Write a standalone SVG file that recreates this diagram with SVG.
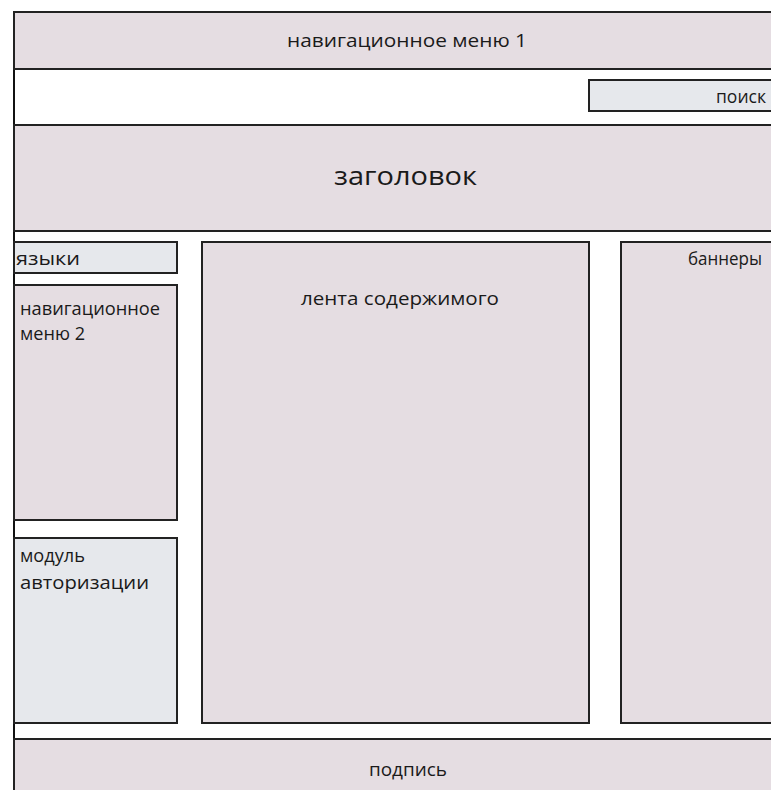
<svg xmlns="http://www.w3.org/2000/svg" width="771" height="790" viewBox="0 0 771 790">
<style>
.p{fill:#e5dde2;stroke:#222;stroke-width:2}
.b{fill:#e6e8ec;stroke:#222;stroke-width:2}
.t{font-family:"Open Sans","Liberation Sans",sans-serif;fill:#1a1a1a;font-size:19px}
</style>
<rect x="0" y="0" width="771" height="790" fill="#fff"/>
<g id="frame"><rect x="14" y="12" width="820" height="820" fill="#fff" stroke="#111" stroke-width="2"/></g>
<g id="nav1"><rect class="p" x="14" y="12" width="820" height="57"/><text class="t" x="287" y="47" textLength="240" lengthAdjust="spacingAndGlyphs">навигационное меню 1</text></g>
<g id="search"><rect class="b" x="589" y="80" width="220" height="31"/><text class="t" x="716" y="103" textLength="50" lengthAdjust="spacingAndGlyphs">поиск</text></g>
<g id="header"><rect class="p" x="14" y="125" width="820" height="106"/><text class="t" x="334" y="185" style="font-size:25px" textLength="143" lengthAdjust="spacingAndGlyphs">заголовок</text></g>
<g id="languages"><rect class="b" x="14" y="242" width="163" height="31"/><text class="t" x="16" y="265" textLength="64" lengthAdjust="spacingAndGlyphs">языки</text></g>
<g id="nav2"><rect class="p" x="14" y="285" width="163" height="235"/><text class="t" x="20" y="315" textLength="140" lengthAdjust="spacingAndGlyphs">навигационное</text><text class="t" x="20" y="340" textLength="65" lengthAdjust="spacingAndGlyphs">меню 2</text></g>
<g id="auth"><rect class="b" x="14" y="538" width="163" height="185"/><text class="t" x="20" y="562" textLength="65" lengthAdjust="spacingAndGlyphs">модуль</text><text class="t" x="20" y="589" textLength="129" lengthAdjust="spacingAndGlyphs">авторизации</text></g>
<g id="content"><rect class="p" x="202" y="242" width="387" height="481"/><text class="t" x="301" y="305" textLength="198" lengthAdjust="spacingAndGlyphs">лента содержимого</text></g>
<g id="banners"><rect class="p" x="621" y="242" width="220" height="481"/><text class="t" x="688" y="265" style="font-size:18px" textLength="74" lengthAdjust="spacingAndGlyphs">баннеры</text></g>
<g id="footer"><rect class="p" x="14" y="739" width="820" height="80"/><text class="t" x="369" y="776" textLength="78" lengthAdjust="spacingAndGlyphs">подпись</text></g>
<g id="connectors"></g>
</svg>
